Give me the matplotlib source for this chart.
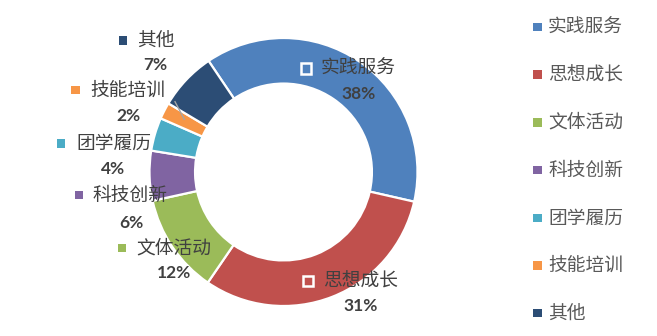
import matplotlib
matplotlib.use('Agg')
import matplotlib.pyplot as plt
from matplotlib.patches import Rectangle
from matplotlib.lines import Line2D

# ---- data ----
categories = ['实践服务', '思想成长', '文体活动', '科技创新', '团学履历', '技能培训', '其他']
values = [38, 31, 12, 6, 4, 2, 7]
pct_labels = ['38%', '31%', '12%', '6%', '4%', '2%', '7%']
colors = ['#4F81BD', '#C0504D', '#9BBB59', '#8064A2', '#4BACC6', '#F79646', '#2C4D75']

# ---- layout (pixels from top-left) ----
W, H = 657, 336
# (square centre, text left, text y, pct centre x, pct centre y, inside?)
label_layout = [
    ((305.8, 68.3), 321, 68.3, 358.3, 94.2, True),
    ((307.8, 280.8), 323, 280.8, 360.7, 305.8, True),
    ((122.0, 248.0), 136.5, 248.0, 174.0, 272.5, False),
    ((78.8, 195.0), 92.5, 195.0, 131.0, 222.5, False),
    ((61.0, 143.3), 76.0, 143.3, 113.3, 169.0, False),
    ((75.5, 90.0), 90.0, 90.0, 128.0, 115.8, False),
    ((122.8, 40.3), 137.5, 40.3, 155.8, 65.3, False),
]

plt.rcParams['font.family'] = ['Noto Sans CJK SC', 'DejaVu Sans']

fig = plt.figure(figsize=(W / 100, H / 100), dpi=100)
fig.patch.set_facecolor('white')


def fx(px):
    return px / W


def fy(py):
    return 1 - py / H


cx, cy, R = 283.5, 172.0, 134.0
ax = fig.add_axes([fx(cx - R), fy(cy + R), 2 * R / W, 2 * R / H])
wedges, _ = ax.pie(values, colors=colors, startangle=124, counterclock=False,
                   radius=1.0,
                   wedgeprops=dict(width=0.34, edgecolor='white', linewidth=1.6))
ax.set_xlim(-1, 1)
ax.set_ylim(-1, 1)
ax.set_aspect('equal')
ax.axis('off')

label_color = '#404040'
legend_color = '#595959'
cjk_size = 13.5
pct_size = 12.5

for i, cat in enumerate(categories):
    (sx, sy), tx, ty, px, py, inside = label_layout[i]
    if inside:
        s = 10.5
        fig.add_artist(Rectangle((fx(sx - s / 2), fy(sy + s / 2)), s / W, s / H,
                                 transform=fig.transFigure, facecolor=colors[i],
                                 edgecolor='white', linewidth=1.8))
    else:
        s = 8.5
        fig.add_artist(Rectangle((fx(sx - s / 2), fy(sy + s / 2)), s / W, s / H,
                                 transform=fig.transFigure, facecolor=colors[i],
                                 edgecolor='none'))
    fig.text(fx(tx), fy(ty), cat, ha='left', va='center', fontsize=cjk_size,
             fontweight='medium', color=label_color)
    fig.text(fx(px), fy(py), pct_labels[i], ha='center', va='center',
             fontsize=pct_size, fontweight='bold', color=label_color,
             family=['Lato', 'DejaVu Sans'])

# leader line for 技能培训
fig.add_artist(Line2D([fx(175.0), fx(184.3)], [fy(101.7), fy(119.3)],
                      transform=fig.transFigure, color='#A6A6A6', linewidth=1.0))

# ---- legend ----
leg_x_sq = 533.3
leg_sq = 8.5
leg_x_txt = 548.0
leg_y0 = 27.0
leg_dy = 47.7
for i, cat in enumerate(categories):
    yy = leg_y0 + i * leg_dy
    fig.add_artist(Rectangle((fx(leg_x_sq), fy(yy + leg_sq / 2)), leg_sq / W, leg_sq / H,
                             transform=fig.transFigure, facecolor=colors[i],
                             edgecolor='none'))
    fig.text(fx(leg_x_txt), fy(yy), cat, ha='left', va='center', fontsize=cjk_size,
             fontweight='medium', color=legend_color)

fig.savefig('out.png', dpi=100, facecolor='white')
